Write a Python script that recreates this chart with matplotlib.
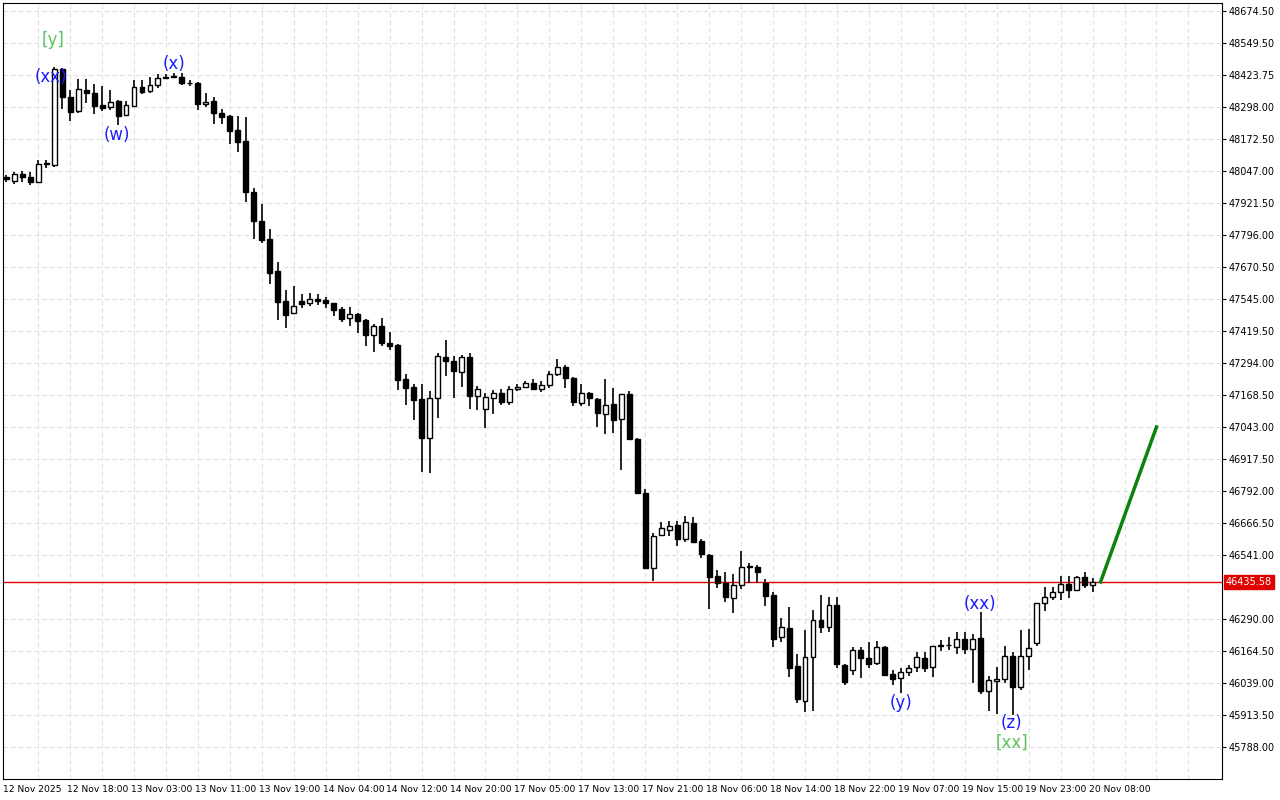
import matplotlib
matplotlib.use("Agg")
import matplotlib.pyplot as plt
import numpy as np

opens = [48023,48008,48035,48023,48004,48074,48070,48447,48337,48282,48365,48353,48306,48298,48322,48267,48302,48376,48361,48384,
 48412,48416,48416,48392,48392,48310,48322,48274,48263,48208,48165,47965,47851,47780,47655,47537,47490,47537,47529,47545,
 47541,47529,47506,47470,47486,47463,47404,47439,47372,47365,47231,47200,47153,47000,47157,47317,47302,47259,47317,47165,
 47114,47157,47176,47141,47192,47200,47216,47192,47208,47251,47278,47235,47137,47176,47153,47094,47133,47074,47172,46996,
 46784,46490,46619,46639,46659,46604,46666,46596,46541,46459,46431,46372,46423,46494,46494,46431,46384,46219,46255,46106,
 45968,46141,46286,46259,46345,46110,46090,46168,46137,46117,46180,46074,46059,46082,46102,46137,46102,46184,46186,46180,
 46211,46172,46215,46008,46047,46055,46145,46023,46145,46196,46353,46376,46396,46427,46404,46455,46423]
highs = [48031,48043,48047,48043,48090,48090,48455,48450,48365,48408,48408,48388,48380,48365,48325,48322,48404,48404,48416,48427,
 48427,48431,48431,48404,48395,48353,48337,48290,48265,48263,48259,47980,47918,47820,47690,47580,47596,47565,47569,47565,
 47553,47531,47514,47514,47490,47465,47447,47470,47416,47367,47251,47212,47212,47184,47333,47384,47321,47325,47333,47204,
 47176,47188,47192,47204,47212,47223,47231,47223,47263,47310,47286,47239,47212,47180,47155,47231,47196,47172,47184,47000,
 46800,46627,46670,46674,46674,46694,46690,46604,46543,46482,46474,46466,46557,46510,46502,46447,46396,46294,46337,46153,
 46247,46325,46384,46376,46376,46113,46180,46180,46200,46204,46182,46090,46098,46110,46161,46161,46184,46208,46219,46239,
 46239,46231,46317,46066,46102,46184,46161,46247,46251,46353,46415,46415,46459,46459,46459,46474,46451]
lows = [48004,47996,48004,47992,48000,48059,48063,48290,48243,48274,48314,48271,48282,48286,48227,48265,48298,48349,48353,48373,
 48408,48414,48384,48380,48286,48298,48231,48231,48153,48122,47925,47780,47765,47604,47463,47431,47488,47510,47518,47521,
 47510,47478,47455,47439,47412,47361,47337,47361,47345,47188,47129,47070,46866,46863,47078,47243,47157,47200,47114,47110,
 47039,47094,47129,47129,47184,47196,47188,47180,47196,47243,47196,47125,47125,47125,47043,47016,47019,46874,46996,46784,
 46490,46439,46615,46615,46576,46592,46592,46529,46329,46412,46357,46313,46408,46431,46431,46341,46180,46200,46062,45960,
 45925,45929,46235,46239,46098,46031,46070,46059,46098,46110,46070,46031,46000,46066,46082,46082,46062,46164,46168,46153,
 46153,46039,45996,45929,45917,46039,45913,46011,46090,46184,46321,46364,46364,46372,46402,46412,46396]
closes = [48016,48035,48023,48004,48074,48076,48447,48337,48278,48369,48353,48302,48294,48318,48263,48306,48376,48357,48384,48412,
 48413,48418,48392,48391,48310,48318,48274,48259,48204,48161,47965,47851,47776,47647,47533,47482,47518,47525,47545,47537,
 47529,47502,47467,47486,47459,47404,47439,47372,47361,47227,47196,47149,47000,47157,47321,47302,47263,47317,47165,47192,
 47161,47176,47141,47192,47200,47216,47192,47208,47251,47278,47235,47141,47176,47157,47098,47129,47070,47172,46996,46784,
 46490,46615,46647,46655,46604,46670,46592,46545,46455,46431,46376,46423,46494,46496,46474,46380,46211,46259,46098,45976,
 46141,46286,46259,46345,46113,46043,46168,46137,46113,46180,46070,46055,46082,46098,46141,46098,46184,46186,46186,46211,
 46172,46211,46008,46051,46055,46145,46023,46145,46176,46353,46376,46396,46427,46404,46455,46423,46435]

current_price = 46435.58
forecast_idx = [137, 144]
forecast_price = [46435, 47043]

ytick_vals = [48674.50,48549.50,48423.75,48298.00,48172.50,48047.00,47921.50,47796.00,47670.50,47545.00,47419.50,
              47294.00,47168.50,47043.00,46917.50,46792.00,46666.50,46541.00,46290.00,46164.50,46039.00,45913.50,45788.00]
xtick_idx = list(range(0, 137, 8))
xtick_labels = ["12 Nov 2025","12 Nov 18:00","13 Nov 03:00","13 Nov 11:00","13 Nov 19:00","14 Nov 04:00","14 Nov 12:00",
                "14 Nov 20:00","17 Nov 05:00","17 Nov 13:00","17 Nov 21:00","18 Nov 06:00","18 Nov 14:00","18 Nov 22:00",
                "19 Nov 07:00","19 Nov 15:00","19 Nov 23:00","20 Nov 08:00"]

labels = [("[y]", 5.9, 48561, "#5ec15e"), ("(xx)", 5.6, 48416, "#1a1aff"), ("(w)", 13.9, 48188, "#1a1aff"),
          ("(x)", 21.0, 48467, "#1a1aff"), ("(xx)", 121.9, 46348, "#1a1aff"), ("(y)", 112.0, 45960, "#1a1aff"),
          ("(z)", 125.9, 45882, "#1a1aff"), ("[xx]", 125.9, 45803, "#5ec15e")]

fig = plt.figure(figsize=(12.8, 8), dpi=100)
ax = fig.add_axes([3/1280, 21/800, 1219/1280, 776/800])
o = np.array(opens); h = np.array(highs); l = np.array(lows); c = np.array(closes)
idx = np.arange(len(o))
ax.vlines(idx, l, h, color="black", lw=1.2, zorder=3)
bottom = np.minimum(o, c); height = np.maximum(np.abs(c - o), 3)
colors = ["white" if cc >= oo else "black" for oo, cc in zip(o, c)]
ax.bar(idx, height, bottom=bottom, width=0.62, color=colors, edgecolor="black", lw=1.0, zorder=4)

ax.axhline(current_price, color="#e00000", lw=1, zorder=2)
ax.plot(forecast_idx, forecast_price, color="#108010", lw=2.5, zorder=5)

for t, xi, yv, col in labels:
    ax.text(xi, yv, t, color=col, fontsize=12, ha="center", va="center", zorder=6)

ax.set_xlim(-0.2, 152.2)
ax.set_ylim(45662, 48706)
ax.yaxis.tick_right()
ax.set_yticks(ytick_vals)
ax.set_yticklabels([f"{v:.2f}" for v in ytick_vals], fontsize=7)
ax.set_xticks(np.array(xtick_idx) - 0.4)
ax.set_xticklabels(xtick_labels, fontsize=6.6, ha="left")
ax.set_xticks(np.arange(4, 152, 4), minor=True)
ax.tick_params(axis="x", which="both", length=0, pad=4)
ax.tick_params(axis="y", length=3, pad=2)
ax.grid(True, which="minor", color="#e0e0e0", ls=(0, (4, 3)), lw=0.8)
ax.grid(True, which="major", axis="y", color="#e0e0e0", ls=(0, (4, 3)), lw=0.8)
ax.set_axisbelow(True)
ax.text(1.003, (current_price - 45662) / (48706 - 45662), f"{current_price:.2f}", transform=ax.transAxes,
        fontsize=7, color="white", va="center", ha="left",
        bbox=dict(boxstyle="square,pad=0.2", fc="#e00000", ec="#e00000"))
for s in ax.spines.values():
    s.set_color("black")
fig.savefig("out.png", dpi=100, facecolor="white")
